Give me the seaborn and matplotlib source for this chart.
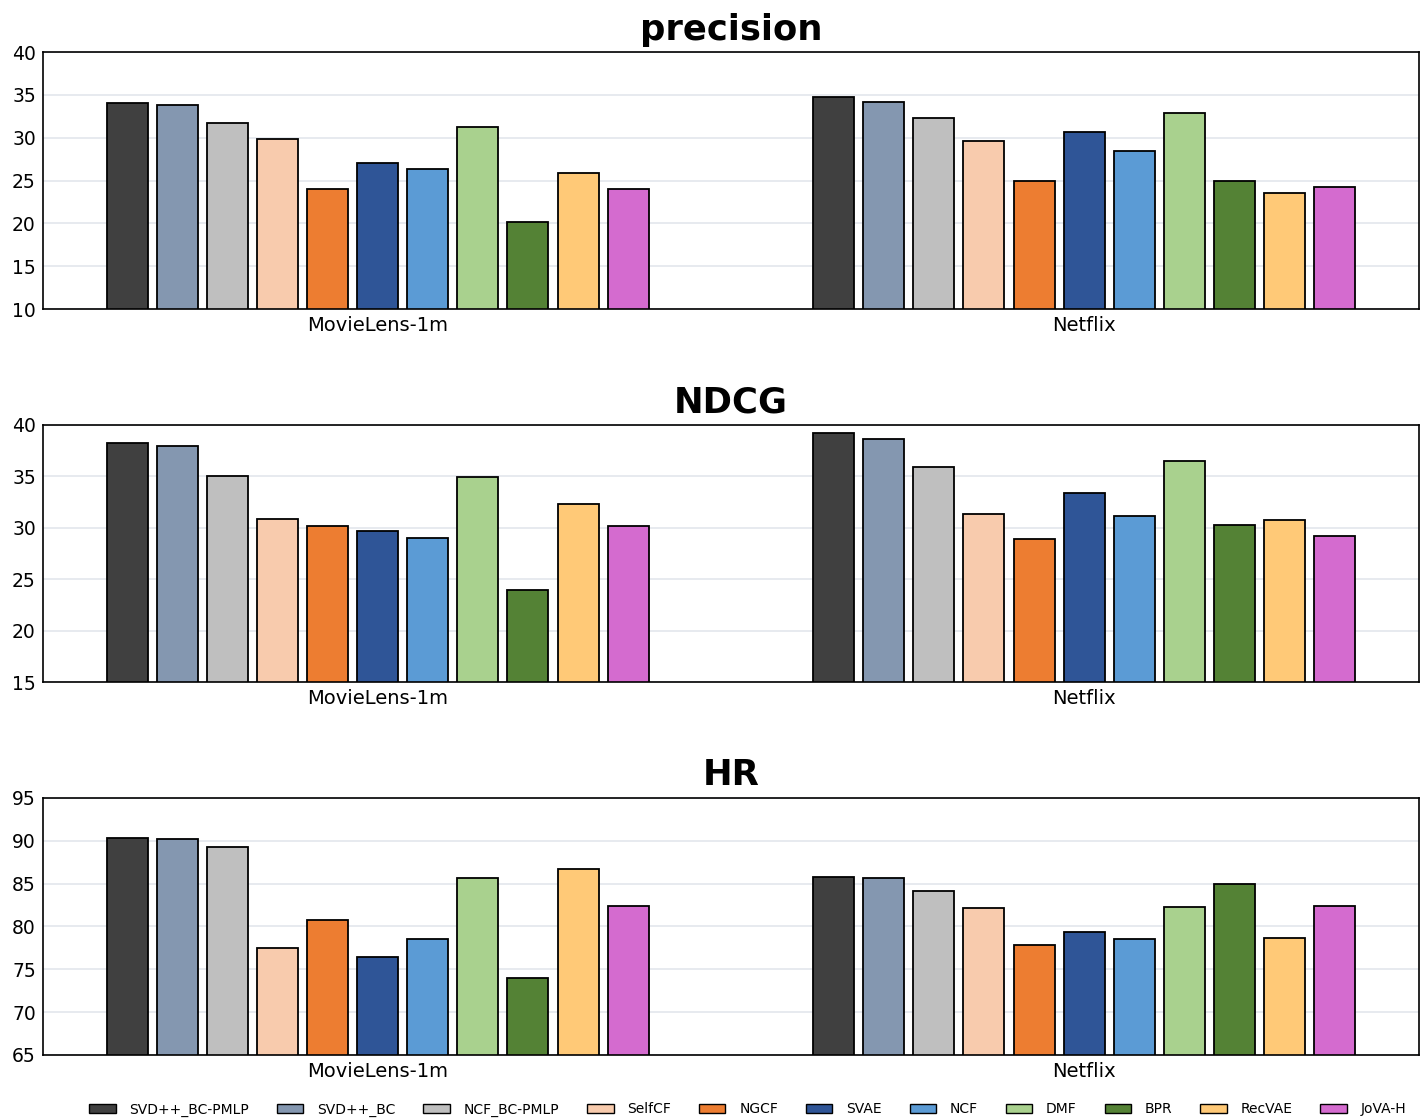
import pandas as pd
import matplotlib
matplotlib.use("Agg")
import matplotlib.pyplot as plt
import seaborn as sns
from matplotlib.patches import Patch

datasets = ["MovieLens-1m", "Netflix"]
models = ["SVD++_BC-PMLP", "SVD++_BC", "NCF_BC-PMLP", "SelfCF", "NGCF", "SVAE",
          "NCF", "DMF", "BPR", "RecVAE", "JoVA-H"]
colors = ["#404040", "#8497B0", "#BFBFBF", "#F8CBAD", "#ED7D31", "#2F5597",
          "#5B9BD5", "#A9D18E", "#548235", "#FFC977", "#D46BCF"]

precision_ml = [34.0, 33.8, 31.7, 29.8, 24.0, 27.1, 26.3, 31.2, 20.2, 25.9, 24.0]
precision_nf = [34.8, 34.2, 32.3, 29.6, 24.9, 30.7, 28.5, 32.9, 24.9, 23.6, 24.2]
ndcg_ml = [38.2, 38.0, 35.0, 30.9, 30.2, 29.7, 29.0, 34.9, 24.0, 32.3, 30.2]
ndcg_nf = [39.2, 38.6, 35.9, 31.3, 28.9, 33.4, 31.1, 36.5, 30.3, 30.8, 29.2]
hr_ml = [90.3, 90.2, 89.3, 77.5, 80.8, 76.4, 78.5, 85.6, 74.0, 86.7, 82.4]
hr_nf = [85.8, 85.6, 84.1, 82.2, 77.8, 79.4, 78.5, 82.3, 85.0, 78.7, 82.4]

metrics = [
    ("precision", precision_ml, precision_nf, (10, 40)),
    ("NDCG", ndcg_ml, ndcg_nf, (15, 40)),
    ("HR", hr_ml, hr_nf, (65, 95)),
]

sns.set_style("white")
plt.rcParams["font.family"] = ["DejaVu Sans"]
plt.rcParams["text.color"] = "black"
plt.rcParams["xtick.color"] = "black"
plt.rcParams["ytick.color"] = "black"
plt.rcParams["axes.labelcolor"] = "black"

fig, axes = plt.subplots(3, 1, figsize=(14.27, 11.19), dpi=100)
fig.subplots_adjust(left=0.030, right=0.9944, top=0.9535, bottom=0.0572, hspace=0.45)

for ax, (name, ml, nf, ylim) in zip(axes, metrics):
    df = pd.DataFrame({
        "dataset": [datasets[0]] * len(models) + [datasets[1]] * len(models),
        "model": models + models,
        "value": ml + nf,
    })
    sns.barplot(data=df, x="dataset", y="value", hue="model", hue_order=models,
                palette=colors, saturation=1, width=0.78, gap=0.18,
                edgecolor="black", linewidth=1.3, legend=False, ax=ax)
    ax.set_ylim(*ylim)
    ax.set_xlim(-0.474, 1.474)
    ax.set_title(name, fontsize=25.5, fontweight="bold", pad=9, color="black")
    ax.set_xlabel("")
    ax.set_ylabel("")
    ax.yaxis.grid(True, color="#e3e6ec", linewidth=1.2)
    ax.set_axisbelow(True)
    ax.tick_params(axis="y", direction="in", length=5, labelsize=13.5, pad=5)
    ax.tick_params(axis="x", length=0, labelsize=14, pad=5)
    for s in ax.spines.values():
        s.set_color("black")
        s.set_linewidth(1.2)

handles = [Patch(facecolor=c, edgecolor="black", linewidth=1.0) for c in colors]
fig.legend(handles, models, loc="lower center", ncol=11, fontsize=10,
           frameon=False, bbox_to_anchor=(0.524, -0.009), handlelength=1.9,
           handleheight=0.65, handletextpad=1.0, columnspacing=2.0)

fig.savefig("out.png", dpi=100)
